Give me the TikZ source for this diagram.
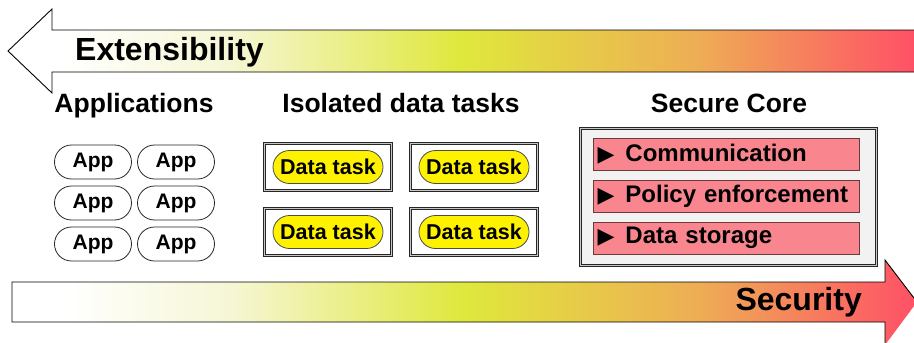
\documentclass[tikz,border=0pt]{standalone}
\usepackage{fontspec}
\setmainfont{Liberation Sans}
\newfontfamily\symfont{DejaVu Sans}
\definecolor{gyel}{HTML}{DFE83C}
\definecolor{gora}{HTML}{EEAD55}
\definecolor{gred}{HTML}{FF5066}
\definecolor{gpale}{HTML}{F6F6D6}
\definecolor{redfill}{HTML}{F9868F}
\definecolor{redline}{HTML}{6B3B3B}
\definecolor{corefill}{HTML}{F2F2F2}
\pgfdeclarehorizontalshading{band}{100bp}{color(0bp)=(white); color(25bp)=(white); color(28bp)=(white); color(37bp)=(gpale); color(50bp)=(gyel); color(63bp)=(gora); color(75bp)=(gred); color(100bp)=(gred)}
\begin{document}
\begin{tikzpicture}[x=1pt,y=-1pt,
  bigtext/.style={font=\bfseries\fontsize{32}{32}\selectfont, inner sep=0pt},
  heading/.style={font=\bfseries\fontsize{26.5}{27}\selectfont, inner sep=0pt, anchor=base},
  apppill/.style={draw=black!85, fill=white, line width=0.8pt, rounded corners=17pt,
    minimum width=77pt, minimum height=34pt, inner sep=0pt, font=\bfseries\fontsize{21}{21}\selectfont},
  dblborder/.style={draw=black!85, double=black!22, double distance=1.3pt, line width=1pt},
  taskbox/.style={dblborder, fill=white, minimum width=127pt, minimum height=47pt, inner sep=0pt},
  taskpill/.style={draw=black!70, fill=yellow, line width=0.8pt, rounded corners=16.5pt,
    minimum width=110pt, minimum height=33pt, inner sep=0pt, font=\bfseries\fontsize{21.5}{21.5}\selectfont},
  corebox/.style={dblborder, fill=corefill, minimum width=296pt, minimum height=137pt, inner sep=0pt},
  redbox/.style={draw=redline, fill=redfill, line width=0.9pt, minimum height=32pt,
    text width=257pt, inner xsep=4.5pt, inner ysep=0pt, align=left, font=\bfseries\fontsize{24}{24}\selectfont}
]
\useasboundingbox (0,0) rectangle (914,343);
% top arrow (Extensibility, pointing left)
\path[shading=band] (916,30) -- (52,30) -- (52,9) -- (8,51) -- (52,93) -- (52,72) -- (916,72) -- cycle;
\draw[line width=0.9pt, line join=miter] (916,30) -- (52,30) -- (52,9) -- (8,51) -- (52,93) -- (52,72) -- (916,72);
\node[bigtext, anchor=base west] (ext) at (75,60) {Extensibility};
% bottom arrow (Security, pointing right)
\path[shading=band] (12,282) -- (885,282) -- (885,260) -- (917,302) -- (885,345) -- (885,322) -- (12,322) -- cycle;
\draw[line width=0.9pt, line join=miter] (885,345) -- (885,322) -- (12,322) -- (12,282) -- (885,282) -- (885,260) -- (917,302);
\node[bigtext, anchor=base east] (sec) at (862,310) {Security};
% headings
\node[heading] (happ) at (134,112) {Applications};
\node[heading] (htask) at (401,112) {Isolated data tasks};
\node[heading] (hcore) at (729,112) {Secure Core};
% apps
\node[apppill] (a1) at (93,162) {App};
\node[apppill] (a2) at (176,162) {App};
\node[apppill] (a3) at (93,203) {App};
\node[apppill] (a4) at (176,203) {App};
\node[apppill] (a5) at (93,244) {App};
\node[apppill] (a6) at (176,244) {App};
% data tasks
\node[taskbox] (t1) at (328,167) {};
\node[taskbox] (t2) at (474,167) {};
\node[taskbox] (t3) at (328,232) {};
\node[taskbox] (t4) at (474,232) {};
\node[taskpill] (p1) at (t1) {Data task};
\node[taskpill] (p2) at (t2) {Data task};
\node[taskpill] (p3) at (t3) {Data task};
\node[taskpill] (p4) at (t4) {Data task};
% secure core
\node[corebox] (core) at (728.5,197) {};
\node[redbox] (r1) at (726,154) {{\symfont\fontsize{22}{22}\selectfont▶}\hspace{11pt}Communication};
\node[redbox] (r2) at (726,196) {{\symfont\fontsize{22}{22}\selectfont▶}\hspace{11pt}Policy enforcement};
\node[redbox] (r3) at (726,238) {{\symfont\fontsize{22}{22}\selectfont▶}\hspace{11pt}Data storage};
\end{tikzpicture}
\end{document}
